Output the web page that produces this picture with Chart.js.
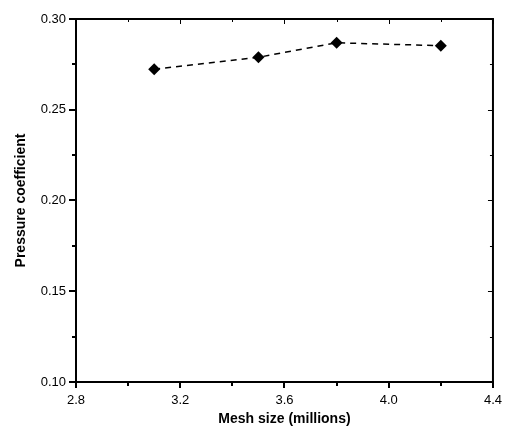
<!DOCTYPE html>
<html>
<head>
<meta charset="utf-8">
<script src="https://cdn.jsdelivr.net/npm/chart.js@4"></script>
<style>
  html, body { margin: 0; padding: 0; background: #fff; }
  #wrap { width: 507px; height: 436px; }
</style>
</head>
<body>
<div id="wrap"><canvas id="chartMesh"></canvas></div>
<script>
let meshSize = [3.1, 3.5, 3.8, 4.2];
let pressureCoef = [0.2723, 0.2789, 0.2869, 0.2853];
let xTicks = [2.8, 3.2, 3.6, 4.0, 4.4];
let yTicks = [0.10, 0.15, 0.20, 0.25, 0.30];

// minor ticks half way between majors, plus box on top and right
let frameTicks = {
  id: 'frameTicks',
  afterDraw(chart) {
    let ctx = chart.ctx;
    let a = chart.chartArea;
    let x = chart.scales.x, y = chart.scales.y;
    ctx.save();
    ctx.strokeStyle = '#000';
    ctx.lineWidth = 2;
    ctx.beginPath();
    ctx.moveTo(a.left, a.top); ctx.lineTo(a.right, a.top); ctx.lineTo(a.right, a.bottom);
    ctx.stroke();
    // outward minor ticks, left and bottom
    ctx.beginPath();
    for (let i = 0; i < xTicks.length - 1; i++) {
      let m = Math.round(x.getPixelForValue((xTicks[i] + xTicks[i + 1]) / 2));
      ctx.moveTo(m, a.bottom); ctx.lineTo(m, a.bottom + 4);
    }
    for (let i = 0; i < yTicks.length - 1; i++) {
      let m = Math.round(y.getPixelForValue((yTicks[i] + yTicks[i + 1]) / 2));
      ctx.moveTo(a.left, m); ctx.lineTo(a.left - 4, m);
    }
    ctx.stroke();
    // inward ticks on top and right
    ctx.lineWidth = 1;
    ctx.beginPath();
    for (let i = 0; i < xTicks.length; i++) {
      let px = Math.round(x.getPixelForValue(xTicks[i])) + 0.5;
      ctx.moveTo(px, a.top); ctx.lineTo(px, a.top + 5);
      if (i < xTicks.length - 1) {
        let m = Math.round(x.getPixelForValue((xTicks[i] + xTicks[i + 1]) / 2)) + 0.5;
        ctx.moveTo(m, a.top); ctx.lineTo(m, a.top + 3);
      }
    }
    for (let i = 0; i < yTicks.length; i++) {
      let py = Math.round(y.getPixelForValue(yTicks[i])) + 0.5;
      ctx.moveTo(a.right, py); ctx.lineTo(a.right - 5, py);
      if (i < yTicks.length - 1) {
        let m = Math.round(y.getPixelForValue((yTicks[i] + yTicks[i + 1]) / 2)) + 0.5;
        ctx.moveTo(a.right, m); ctx.lineTo(a.right - 3, m);
      }
    }
    ctx.stroke();
    ctx.restore();
  }
};

let chartMesh = new Chart(document.getElementById('chartMesh').getContext('2d'), {
  type: 'scatter',
  data: {
    datasets: [{
      data: meshSize.map((v, i) => ({ x: v, y: pressureCoef[i] })),
      showLine: true,
      borderColor: '#000',
      borderWidth: 1.5,
      borderDash: [6, 5],
      backgroundColor: '#000',
      pointStyle: 'rectRot',
      pointRadius: 6,
      pointBorderWidth: 0
    }]
  },
  options: {
    responsive: true,
    maintainAspectRatio: false,
    animation: false,
    layout: { padding: { top: 19, right: 13, left: 0, bottom: 0 } },
    plugins: { legend: { display: false }, tooltip: { enabled: false } },
    scales: {
      x: {
        min: 2.8, max: 4.4,
        afterBuildTicks: s => { s.ticks = xTicks.map(v => ({ value: v })); },
        afterFit: s => { s.height = 54; },
        border: { display: true, color: '#000', width: 2 },
        grid: { drawOnChartArea: false, color: '#000', lineWidth: 2, tickLength: 6 },
        ticks: { color: '#000', padding: 5, font: { family: 'Liberation Sans', size: 13 }, callback: v => v.toFixed(1), maxRotation: 0 },
        title: { display: true, text: 'Mesh size (millions)', color: '#000', padding: { top: 0, bottom: 8 }, font: { family: 'Liberation Sans', size: 14, weight: 'bold' } }
      },
      y: {
        min: 0.10, max: 0.30,
        afterBuildTicks: s => { s.ticks = yTicks.map(v => ({ value: v })); },
        afterFit: s => { s.width = 76; },
        border: { display: true, color: '#000', width: 2 },
        grid: { drawOnChartArea: false, color: '#000', lineWidth: 2, tickLength: 7 },
        ticks: { color: '#000', padding: 3, font: { family: 'Liberation Sans', size: 13 }, callback: v => v.toFixed(2) },
        title: { display: true, text: 'Pressure coefficient', color: '#000', padding: { top: 13, bottom: 0 }, font: { family: 'Liberation Sans', size: 14, weight: 'bold' } }
      }
    }
  },
  plugins: [frameTicks]
});
</script>
</body>
</html>
